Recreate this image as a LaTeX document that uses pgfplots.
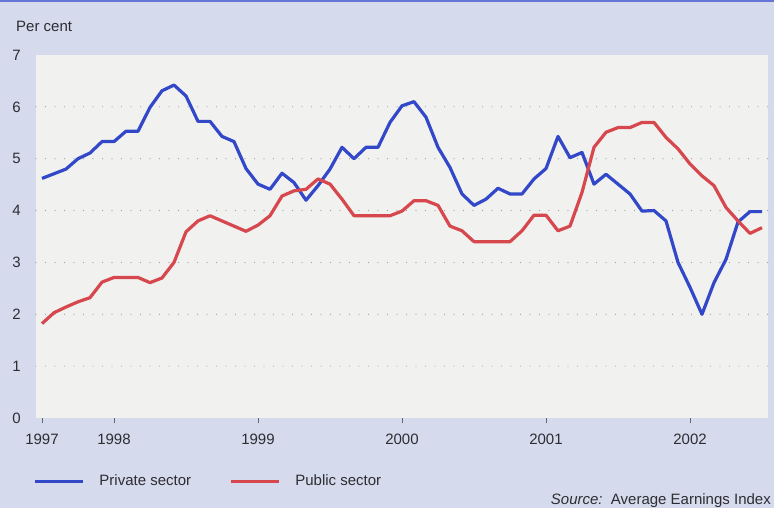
\documentclass[border=0pt]{standalone}
\usepackage{pgfplots}
\pgfplotsset{compat=1.18}
\usepackage{fontspec}
\setmainfont{Liberation Sans}
\definecolor{outerbg}{RGB}{213,218,236}
\definecolor{plotbg}{RGB}{241,241,240}
\definecolor{priv}{RGB}{50,72,200}
\definecolor{pub}{RGB}{214,72,78}
\definecolor{txt}{RGB}{45,45,50}
\pgfplotstableread{
m v
-6 4.62
-5 4.71
-4 4.80
-3 5.00
-2 5.11
-1 5.33
0 5.33
1 5.53
2 5.53
3 5.99
4 6.31
5 6.42
6 6.21
7 5.72
8 5.72
9 5.43
10 5.33
11 4.81
12 4.51
13 4.41
14 4.72
15 4.54
16 4.20
17 4.48
18 4.80
19 5.22
20 5.00
21 5.22
22 5.22
23 5.70
24 6.02
25 6.10
26 5.80
27 5.22
28 4.83
29 4.32
30 4.10
31 4.22
32 4.43
33 4.32
34 4.32
35 4.61
36 4.81
37 5.43
38 5.02
39 5.12
40 4.51
41 4.70
42 4.51
43 4.32
44 3.99
45 4.00
46 3.80
47 3.00
48 2.52
49 2.00
50 2.61
51 3.06
52 3.78
53 3.98
54 3.98
}\privdata
\pgfplotstableread{
m v
-6 1.82
-5 2.03
-4 2.14
-3 2.24
-2 2.32
-1 2.62
0 2.71
1 2.71
2 2.71
3 2.61
4 2.70
5 3.00
6 3.59
7 3.80
8 3.90
9 3.80
10 3.70
11 3.60
12 3.72
13 3.90
14 4.28
15 4.38
16 4.41
17 4.61
18 4.51
19 4.22
20 3.90
21 3.90
22 3.90
23 3.90
24 3.99
25 4.19
26 4.19
27 4.10
28 3.70
29 3.61
30 3.40
31 3.40
32 3.40
33 3.40
34 3.61
35 3.91
36 3.91
37 3.61
38 3.70
39 4.35
40 5.22
41 5.51
42 5.60
43 5.60
44 5.70
45 5.70
46 5.41
47 5.19
48 4.90
49 4.67
50 4.48
51 4.06
52 3.80
53 3.56
54 3.67
}\pubdata
\begin{document}
\fontsize{15}{18}\selectfont
\begin{tikzpicture}
\fill[outerbg] (0pt,0pt) rectangle (774pt,508pt);
\fill[priv!75] (0pt,505.5pt) rectangle (774pt,508pt);
\node[anchor=base west, text=txt, inner sep=0pt, font=\fontsize{15}{18}\selectfont] at (16pt,476pt) {Per cent};
\node[anchor=base east, text=txt, inner sep=0pt, font=\fontsize{15}{18}\selectfont] at (771pt,3pt) {\textit{Source:}\ \ Average Earnings Index};
\begin{axis}[
  at={(36pt,90pt)}, anchor=south west, scale only axis,
  width=732pt, height=363pt,
  xmin=-6.5, xmax=54.5, ymin=0, ymax=7,
  axis background/.style={fill=plotbg},
  axis line style={draw=none},
  xtick={-6,0,12,24,36,48},
  xticklabels={1997,1998,1999,2000,2001,2002},
  xtick pos=bottom, tick align=outside, major tick length=5pt,
  xtick style={draw=gray!80!black, line width=0.8pt},
  ytick={1,2,3,4,5,6}, extra y ticks={0,7},
  extra y tick style={grid=none, ytick style={draw=none}},
  ytick style={draw=none},
  ymajorgrids,
  grid style={draw=gray!75, line width=1.2pt, dash pattern=on 0pt off 9.5pt, line cap=round},
  tick label style={font=\fontsize{15}{18}\selectfont, text=txt},
  /pgf/number format/assume math mode=true,
  xticklabel style={yshift=-6pt},
  yticklabel style={xshift=-5pt},
  legend columns=2,
  legend style={at={(axis description cs:-0.004,-0.174)}, anchor=west,
    draw=none, fill=none, inner sep=0pt, text=txt,
    font=\fontsize{15}{18}\selectfont,
    /tikz/every odd column/.append style={column sep=13pt},
    /tikz/every even column/.append style={column sep=36pt}},
  legend image code/.code={\draw[#1] (0pt,0pt) -- (48pt,0pt);},
]
\addplot[priv, line width=3.2pt, line join=round] table[x=m, y=v] {\privdata};
\addlegendentry{Private sector}
\addplot[pub, line width=3.2pt, line join=round] table[x=m, y=v] {\pubdata};
\addlegendentry{Public sector}
\end{axis}
\end{tikzpicture}
\end{document}
